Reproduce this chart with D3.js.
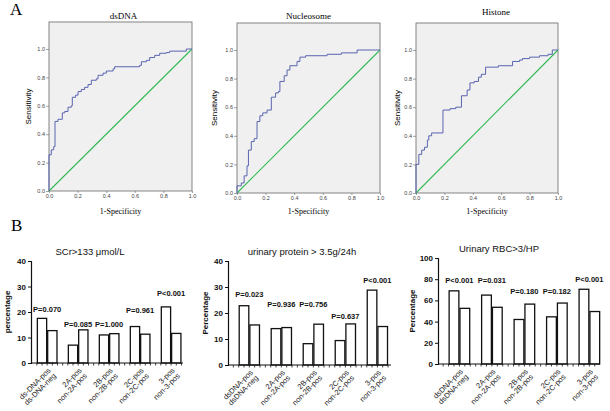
<!DOCTYPE html>
<html>
<head>
<meta charset="utf-8">
<script src="https://cdn.jsdelivr.net/npm/d3@7"></script>
<style>
  body { margin: 0; background: #fff; }
  svg { display: block; }
</style>
</head>
<body>
<svg id="chart" width="610" height="411"></svg>
<script>
// ROC curves: at each fpr the curve jumps up to tpr
var dsdnaFpr = [0, 0, 0.016, 0.033, 0.042, 0.063, 0.093, 0.11, 0.133, 0.156, 0.163, 0.186, 0.203, 0.226, 0.249, 0.273, 0.296, 0.331, 0.343, 0.378, 0.401, 0.448, 0.459, 0.634, 0.646, 0.681, 0.704, 0.739, 0.774, 0.82, 0.844, 0.96, 1.0];
var dsdnaTpr = [0, 0.255, 0.29, 0.313, 0.49, 0.505, 0.55, 0.56, 0.59, 0.6, 0.66, 0.675, 0.70, 0.715, 0.73, 0.75, 0.78, 0.79, 0.815, 0.83, 0.845, 0.86, 0.875, 0.885, 0.91, 0.92, 0.94, 0.955, 0.97, 0.975, 0.985, 1.0, 1.0];

var nucleoFpr = [0, 0, 0.03, 0.05, 0.07, 0.08, 0.10, 0.12, 0.14, 0.16, 0.18, 0.21, 0.24, 0.27, 0.29, 0.30, 0.33, 0.35, 0.37, 0.42, 0.44, 0.48, 0.63, 0.73, 0.84, 1.0];
var nucleoTpr = [0, 0.05, 0.07, 0.12, 0.19, 0.30, 0.36, 0.38, 0.50, 0.54, 0.56, 0.58, 0.67, 0.70, 0.71, 0.78, 0.82, 0.86, 0.89, 0.92, 0.95, 0.96, 0.97, 0.98, 1.0, 1.0];

var histoneFpr = [0, 0, 0.02, 0.04, 0.06, 0.08, 0.09, 0.11, 0.19, 0.24, 0.28, 0.32, 0.36, 0.38, 0.41, 0.44, 0.46, 0.49, 0.58, 0.68, 0.73, 0.75, 0.80, 0.87, 0.93, 0.96, 1.0];
var histoneTpr = [0, 0.20, 0.27, 0.30, 0.32, 0.37, 0.40, 0.42, 0.58, 0.59, 0.60, 0.68, 0.72, 0.77, 0.78, 0.81, 0.83, 0.88, 0.89, 0.92, 0.93, 0.94, 0.95, 0.96, 0.97, 1.0, 1.0];

var rocTicks = [0, 0.2, 0.4, 0.6, 0.8, 1.0];

// bar charts: two bars per group
var scrGroups = ["ds-DNA-pos", "ds-DNA-neg", "2A-pos", "non-2A-pos", "2B-pos", "non-2B-pos", "2C-pos", "non-2C-pos", "3-pos", "non-3-pos"];
var groups = ["dsDNA-pos", "dsDNA-neg", "2A-pos", "non-2A-pos", "2B-pos", "non-2B-pos", "2C-pos", "non-2C-pos", "3-pos", "non-3-pos"];

var scrValues = [17.5, 12.7, 7.0, 13.0, 11.0, 11.5, 14.3, 11.3, 22.0, 11.6];
var proteinValues = [22.8, 15.4, 14.0, 14.4, 8.2, 15.7, 9.4, 15.8, 28.8, 14.8];
var rbcValues = [69.0, 52.5, 65.0, 53.5, 42.0, 56.5, 44.5, 57.5, 70.5, 49.5];

var scrP = ["P=0.070", "P=0.085", "P=1.000", "P=0.961", "P<0.001"];
var proteinP = ["P=0.023", "P=0.936", "P=0.756", "P=0.637", "P<0.001"];
var rbcP = ["P<0.001", "P=0.031", "P=0.180", "P=0.182", "P<0.001"];

// height (in axis units) at which each P label sits
var scrPAt = [20, 14.1, 14.1, 19.6, 26.3];
var proteinPAt = [26, 22.3, 22.3, 17.7, 31.5];
var rbcPAt = [76, 76, 66, 66, 77.5];

var ticks40 = [0, 10, 20, 30, 40];
var ticks100 = [0, 20, 40, 60, 80, 100];

var svg = d3.select('#chart');
var sans = 'Liberation Sans, Arial, sans-serif';
var serif = 'Liberation Serif, Times New Roman, serif';

svg.append('text').attr('x', 10).attr('y', 15)
    .attr('font-family', serif).attr('font-size', 17).text('A');
svg.append('text').attr('x', 11).attr('y', 231)
    .attr('font-family', serif).attr('font-size', 17).text('B');

function drawRoc(p) {
    var x = d3.scaleLinear().domain([0, 1]).range([p.left, p.right]);
    var y = d3.scaleLinear().domain([0, 1]).range([p.bottom, p.one]);
    var g = svg.append('g');

    g.append('rect')
        .attr('x', p.left).attr('y', p.top)
        .attr('width', p.right - p.left).attr('height', p.bottom - p.top)
        .attr('fill', '#f0f0f0').attr('stroke', '#666').attr('stroke-width', 0.8);

    var yAxis = d3.axisLeft(y).tickValues(rocTicks).tickFormat(d3.format('.1f')).tickSize(3).tickPadding(1);
    var ya = g.append('g').attr('transform', 'translate(' + p.left + ',0)').call(yAxis);
    var xAxis = d3.axisBottom(x).tickValues(rocTicks).tickFormat(d3.format('.1f')).tickSize(2).tickPadding(1);
    var xa = g.append('g').attr('transform', 'translate(0,' + p.bottom + ')').call(xAxis);
    [ya, xa].forEach(function(a) {
        a.select('.domain').remove();
        a.selectAll('line').attr('stroke', '#666').attr('stroke-width', 0.6);
        a.selectAll('text').attr('font-family', sans).attr('font-size', 5.5).attr('fill', '#444');
    });

    g.append('line')
        .attr('x1', x(0)).attr('y1', y(0)).attr('x2', x(1)).attr('y2', y(1))
        .attr('stroke', '#33bb55').attr('stroke-width', 1.1);

    var pts = p.fpr.map(function(f, i) { return [f, p.tpr[i]]; });
    var line = d3.line().x(function(d) { return x(d[0]); }).y(function(d) { return y(d[1]); })
        .curve(d3.curveStepAfter);
    g.append('path').datum(pts).attr('d', line)
        .attr('fill', 'none').attr('stroke', '#5a64b0').attr('stroke-width', 1);

    g.append('text').attr('x', (p.left + p.right) / 2 + p.titleDx).attr('y', p.titleY)
        .attr('text-anchor', 'middle').attr('font-family', serif).attr('font-size', 9)
        .text(p.title);
    g.append('text').attr('x', (p.left + p.right) / 2).attr('y', 214)
        .attr('text-anchor', 'middle').attr('font-family', serif).attr('font-size', 8)
        .text('1-Specificity');
    g.append('text')
        .attr('transform', 'translate(' + p.ylabX + ',' + ((p.top + p.bottom) / 2) + ') rotate(-90)')
        .attr('text-anchor', 'middle').attr('font-family', sans).attr('font-size', 8)
        .text('Sensitivity');
}

drawRoc({ title: 'dsDNA', fpr: dsdnaFpr, tpr: dsdnaTpr, left: 49, right: 192, top: 22, bottom: 191, one: 49, titleDx: 3, titleY: 19, ylabX: 31 });
drawRoc({ title: 'Nucleosome', fpr: nucleoFpr, tpr: nucleoTpr, left: 237, right: 380, top: 23, bottom: 193, one: 50, titleDx: 0, titleY: 19, ylabX: 217 });
drawRoc({ title: 'Histone', fpr: histoneFpr, tpr: histoneTpr, left: 416, right: 558, top: 23, bottom: 193, one: 50, titleDx: 9, titleY: 15, ylabX: 400 });

function drawBars(p) {
    var y = d3.scaleLinear().domain([0, p.max]).range([p.zero, p.topY]);
    // bar slot index: each group is gap, bar, bar
    var x = d3.scaleLinear().domain([1, 14]).range([p.first, p.first + 13 * p.step]);
    var slot = function(i) { return Math.floor(i / 2) * 3 + 1 + (i % 2); };
    var bw = p.step * 0.9;
    var g = svg.append('g');

    g.selectAll('rect.bar').data(p.values).enter().append('rect')
        .attr('class', 'bar')
        .attr('x', function(d, i) { return x(slot(i)) - bw / 2; })
        .attr('y', function(d) { return y(d); })
        .attr('width', bw)
        .attr('height', function(d) { return y(0) - y(d); })
        .attr('fill', '#fff').attr('stroke', '#111').attr('stroke-width', 1.3);

    var yAxis = d3.axisLeft(y).tickValues(p.ticks).tickSize(3).tickPadding(2);
    var ya = g.append('g').attr('transform', 'translate(' + p.axisX + ',0)').call(yAxis);
    ya.select('.domain').attr('stroke', '#111').attr('stroke-width', 1.2);
    ya.selectAll('line').attr('stroke', '#111').attr('stroke-width', 1);
    ya.selectAll('text').attr('font-family', sans).attr('font-size', 8)
        .attr('font-weight', 'bold').attr('fill', '#111');

    g.append('line').attr('x1', p.axisX).attr('x2', p.axisEnd)
        .attr('y1', y(0)).attr('y2', y(0)).attr('stroke', '#111').attr('stroke-width', 1.2);
    var tickIdx = d3.range(0, 14.75, 0.5).filter(function(t) { return x(t) >= p.axisX + 2 && x(t) <= p.axisEnd; });
    g.selectAll('line.xt').data(tickIdx).enter().append('line')
        .attr('x1', function(d) { return x(d); }).attr('x2', function(d) { return x(d); })
        .attr('y1', y(0)).attr('y2', y(0) + 2.5).attr('stroke', '#111').attr('stroke-width', 0.8);

    // two-line group labels, rotated
    var grp = d3.range(5);
    var lab = g.selectAll('text.cat').data(grp).enter().append('text')
        .attr('transform', function(d) {
            return 'translate(' + (x(d * 3 + 1.5) + 4) + ',' + (y(0) + 8) + ') rotate(-45)';
        })
        .attr('text-anchor', 'end').attr('font-family', sans).attr('font-size', 7.5)
        .attr('fill', '#222');
    lab.append('tspan').attr('x', 0).attr('dy', 0).text(function(d) { return p.labels[d * 2]; });
    lab.append('tspan').attr('x', 0).attr('dy', 7.5).text(function(d) { return p.labels[d * 2 + 1]; });

    g.selectAll('text.pv').data(p.pvals).enter().append('text')
        .attr('x', function(d, i) { return x(i * 3 + 1.5); })
        .attr('y', function(d, i) { return y(p.pAt[i]); })
        .attr('text-anchor', 'middle').attr('font-family', sans).attr('font-size', 7.5)
        .attr('font-weight', 'bold').attr('fill', '#111')
        .text(function(d) { return d; });

    g.append('text').attr('x', p.titleX).attr('y', p.titleY)
        .attr('text-anchor', 'middle').attr('font-family', sans).attr('font-size', 9.5)
        .attr('fill', '#111').text(p.title);
    g.append('text')
        .attr('transform', 'translate(' + p.ylabX + ',' + ((p.zero + p.topY) / 2) + ') rotate(-90)')
        .attr('text-anchor', 'middle').attr('font-family', sans).attr('font-size', 8)
        .attr('font-weight', 'bold').attr('fill', '#111').text(p.ylab);
}

drawBars({ title: 'SCr>133 \u03bcmol/L', ylab: 'percentage', labels: scrGroups, values: scrValues,
    pvals: scrP, pAt: scrPAt, max: 40, ticks: ticks40, zero: 363, topY: 261,
    axisX: 31, axisEnd: 183, first: 42, step: 10.33, titleX: 90, titleY: 255, ylabX: 10 });
drawBars({ title: 'urinary protein > 3.5g/24h', ylab: 'Percentage', labels: groups, values: proteinValues,
    pvals: proteinP, pAt: proteinPAt, max: 40, ticks: ticks40, zero: 365, topY: 261,
    axisX: 228, axisEnd: 391, first: 244, step: 10.67, titleX: 302, titleY: 255, ylabX: 208 });
drawBars({ title: 'Urinary RBC>3/HP', ylab: 'Percentage', labels: groups, values: rbcValues,
    pvals: rbcP, pAt: rbcPAt, max: 100, ticks: ticks100, zero: 364, topY: 258,
    axisX: 438, axisEnd: 600, first: 454, step: 10.83, titleX: 499, titleY: 252, ylabX: 415 });
</script>
</body>
</html>
